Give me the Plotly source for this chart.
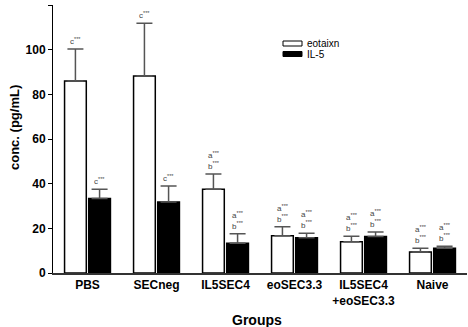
import plotly.graph_objects as go

groups = ["PBS", "SECneg", "IL5SEC4", "eoSEC3.3", "IL5SEC4<br>+eoSEC3.3", "Naive"]
eotaxin = [86.0, 88.2, 37.5, 16.7, 14.0, 9.4]
eotaxin_err = [14.3, 23.6, 6.8, 4.0, 2.4, 1.7]
il5 = [33.4, 31.8, 13.3, 15.8, 16.3, 11.1]
il5_err = [4.1, 7.2, 4.3, 2.0, 2.1, 0.9]
eotaxin_sig = ["c<sup>***</sup>", "c<sup>***</sup>", "a<sup>***</sup><br>b<sup>***</sup>",
               "a<sup>***</sup><br>b<sup>***</sup>", "a<sup>***</sup><br>b<sup>***</sup>",
               "a<sup>***</sup><br>b<sup>***</sup>"]
il5_sig = ["c<sup>***</sup>", "c<sup>***</sup>", "a<sup>***</sup><br>b<sup>***</sup>",
           "a<sup>***</sup><br>b<sup>***</sup>", "a<sup>***</sup><br>b<sup>***</sup>",
           "a<sup>***</sup><br>b<sup>***</sup>"]
yticks = [0, 20, 40, 60, 80, 100, 120]

FONT = "Liberation Sans, Arial, sans-serif"

fig = go.Figure()
fig.add_trace(go.Bar(
    x=groups, y=eotaxin, name="eotaixn",
    marker=dict(color="white", line=dict(color="black", width=1.5)),
    error_y=dict(type="data", array=eotaxin_err, arrayminus=[0]*6, symmetric=False,
                 color="#555555", thickness=1.5, width=8),
    showlegend=False,
))
fig.add_trace(go.Bar(
    x=groups, y=il5, name="IL-5",
    marker=dict(color="black", line=dict(color="black", width=1.5)),
    error_y=dict(type="data", array=il5_err, arrayminus=[0]*6, symmetric=False,
                 color="#555555", thickness=1.5, width=8),
    showlegend=False,
))

for i, g in enumerate(groups):
    fig.add_annotation(x=g, y=eotaxin[i] + eotaxin_err[i], xshift=-12, yshift=1,
                       text=eotaxin_sig[i], showarrow=False, yanchor="bottom",
                       font=dict(size=8, color="#444444", family=FONT))
    fig.add_annotation(x=g, y=il5[i] + il5_err[i], xshift=12, yshift=1,
                       text=il5_sig[i], showarrow=False, yanchor="bottom",
                       font=dict(size=8, color="#444444", family=FONT))

# legend drawn manually
leg = [("eotaixn", "white"), ("IL-5", "black")]
for k, (name, col) in enumerate(leg):
    yc = 43.5 + 10.5 * k
    fig.add_shape(type="rect", xref="paper", yref="paper",
                  x0=(283 - 53) / 414, x1=(302 - 53) / 414,
                  y0=(273 - (yc + 2.5)) / 268, y1=(273 - (yc - 2.5)) / 268,
                  fillcolor=col, line=dict(color="black", width=1))
    fig.add_annotation(xref="paper", yref="paper", x=(305 - 53) / 414, y=(273 - yc) / 268,
                       text=name, showarrow=False, xanchor="left", yanchor="middle",
                       font=dict(size=10, color="black", family=FONT))

fig.add_annotation(xref="paper", yref="paper", x=(257 - 53) / 414, y=(273 - 320) / 268,
                   text="<b>Groups</b>", showarrow=False, xanchor="center", yanchor="middle",
                   font=dict(size=14, color="black", family=FONT))
fig.add_annotation(xref="paper", yref="paper", x=(14 - 53) / 414, y=(273 - 128) / 268,
                   text="<b>conc. (pg/mL)</b>", showarrow=False, textangle=-90,
                   xanchor="center", yanchor="middle",
                   font=dict(size=13, color="black", family=FONT))

fig.update_layout(
    width=468, height=327,
    margin=dict(l=53, r=1, t=5, b=54),
    paper_bgcolor="white", plot_bgcolor="white",
    barmode="group", bargap=0.3, bargroupgap=0.1,
    font=dict(family=FONT, color="black"),
)
fig.update_xaxes(
    showline=True, linecolor="#333333", linewidth=1.5,
    ticks="", showgrid=False, range=[-0.5, 5.5],
    tickfont=dict(size=12, weight="bold", family=FONT),
)
fig.update_yaxes(
    range=[0, 120], tickvals=yticks, showline=True, linecolor="black", linewidth=1,
    ticks="outside", ticklen=4, tickcolor="black", showgrid=False, zeroline=False,
    tickfont=dict(size=12, weight="bold", family=FONT),
)

fig.write_html("out.html")
